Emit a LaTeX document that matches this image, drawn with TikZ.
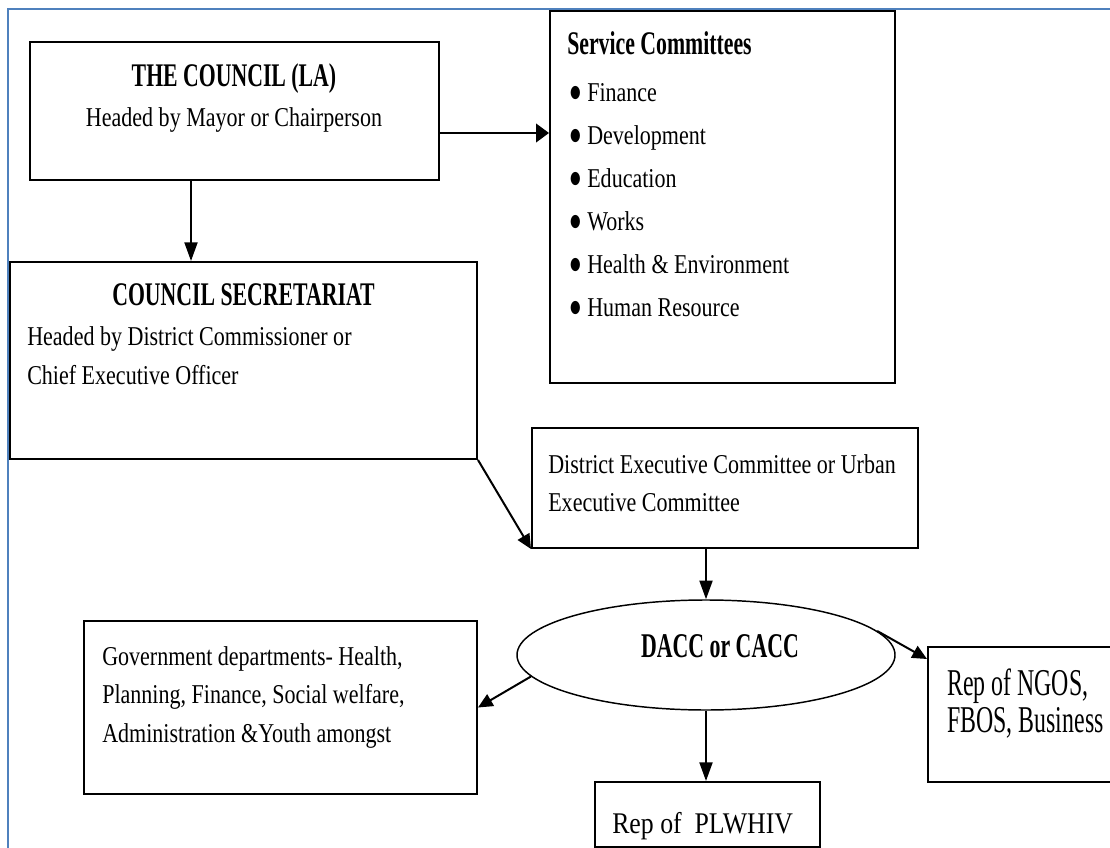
\documentclass[tikz,border=0pt]{standalone}
\usepackage{fontspec}
\setmainfont{Liberation Serif}[FakeStretch=0.81]
\newfontfamily\headfont{Liberation Serif}[FakeStretch=0.66]
\newfontfamily\ovalfont{Liberation Serif}[FakeStretch=0.63]
\newfontfamily\ngofont{Liberation Serif}[FakeStretch=0.63]
\newfontfamily\plwfont{Liberation Serif}[FakeStretch=0.86]
\newfontfamily\dotfont{DejaVu Sans}[FakeStretch=0.7]
\usetikzlibrary{positioning,arrows.meta,calc,fit,shapes.geometric}
\definecolor{framecol}{RGB}{79,129,189}
\newcommand{\listdot}{\raisebox{3pt}{\dotfont\fontsize{13}{13}\selectfont ●}}
\tikzset{>={Triangle[length=11pt,width=10pt]}}
\tikzset{
  box/.style={draw, line width=1.5pt, inner sep=0pt},
  oval/.style={draw, ellipse, line width=1.1pt, minimum width=283.5pt, minimum height=82.5pt, inner sep=0pt},
  body/.style={inner sep=0pt, font=\fontsize{20.4}{24}\selectfont},
  head/.style={inner sep=0pt, font=\headfont\bfseries\fontsize{24.75}{30}\selectfont},
  conn/.style={->, line width=1.5pt},
  hconn/.style={-{Triangle[length=9.75pt,width=14pt]}, line width=1.5pt},
  vconn/.style={-{Triangle[length=14pt,width=9.75pt]}, line width=1.5pt}
}

\begin{document}
\begin{tikzpicture}[x=0.75pt, y=-0.75pt]
      \useasboundingbox (0,0) rectangle (1110,848);
      \draw[framecol, line width=1.5pt] (8,848) -- (8,9) -- (1110,9);

      % boxes
      \node[box, fit={(30,42) (439,180)}] (council) {};
      \node[box, fit={(550,11) (895,383)}] (service) {};
      \node[box, fit={(10,262) (477,459)}] (secr) {};
      \node[box, fit={(532,428) (918,548)}] (exec) {};
      \node[oval] (dacc) at (706,655) {};
      \node[box, fit={(84,621) (477,794)}] (govt) {};
      \node[box, fit={(595,782) (820,847)}] (plwhiv) {};
      \node[box, fit={(928,647) (1114,782)}] (ngos) {};

      % texts
      \node[head, anchor=base] (councilT) at (234,87) {THE COUNCIL (LA)};
      \node[body, anchor=base] (councilS) at (234,127) {Headed by Mayor or Chairperson};
      \node[head, anchor=base west] (serviceT) at (567,55) {Service Committees};
      \foreach \entry [count=\i] in {Finance, Development, Education, Works, Health \& Environment, Human Resource}
        \node[body, anchor=base west] (svc\i) at (587,{59+43*\i}) {\llap{\listdot\hspace{5pt}}\entry};
      \node[head, anchor=base] (secrT) at (243.5,306) {COUNCIL SECRETARIAT};
      \node[body, anchor=base west] (secrA) at (27,346) {Headed by District Commissioner or};
      \node[body, anchor=base west] (secrB) at (27,385) {Chief Executive Officer};
      \node[body, anchor=base west] (execA) at (548,473) {District Executive Committee or Urban};
      \node[body, anchor=base west] (execB) at (548,511) {Executive Committee};
      \node[inner sep=0pt, anchor=base, font=\ovalfont\bfseries\fontsize{26}{30}\selectfont] (daccT) at (720,657) {DACC or CACC};
      \node[body, anchor=base west] (govtA) at (102,665) {Government departments- Health,};
      \node[body, anchor=base west] (govtB) at (102,703) {Planning, Finance, Social welfare,};
      \node[body, anchor=base west] (govtC) at (102,742) {Administration \&Youth amongst};
      \node[inner sep=0pt, anchor=base west, font=\ngofont\fontsize{28.4}{30}\selectfont] (ngosA) at (947,695) {Rep of NGOS,};
      \node[inner sep=0pt, anchor=base west, font=\ngofont\fontsize{28.4}{30}\selectfont] (ngosB) at (947,732) {FBOS, Business};
      \node[inner sep=0pt, anchor=base west, font=\plwfont\fontsize{22.5}{26}\selectfont] (plwhivT) at (612,833) {Rep of\ \ PLWHIV};

      % connectors
      \draw[hconn] ($(council.east)+(0,22)$) coordinate (c2s) -- (c2s -| service.west);
      \draw[vconn] ($(council.south)+(-43.5,0)$) coordinate (c2d) -- (c2d |- secr.north);
      \draw[conn] (secr.south east) -- (exec.south west);
      \draw[vconn] (exec.south -| dacc.north) -- (dacc.north);
      \draw[conn] (dacc.187) -- (govt.east);
      \draw[vconn] (dacc.south) -- (dacc.south |- plwhiv.north);
      \draw[conn] (dacc.8) -- ($(ngos.north west)+(0,13)$);
\end{tikzpicture}
\end{document}
